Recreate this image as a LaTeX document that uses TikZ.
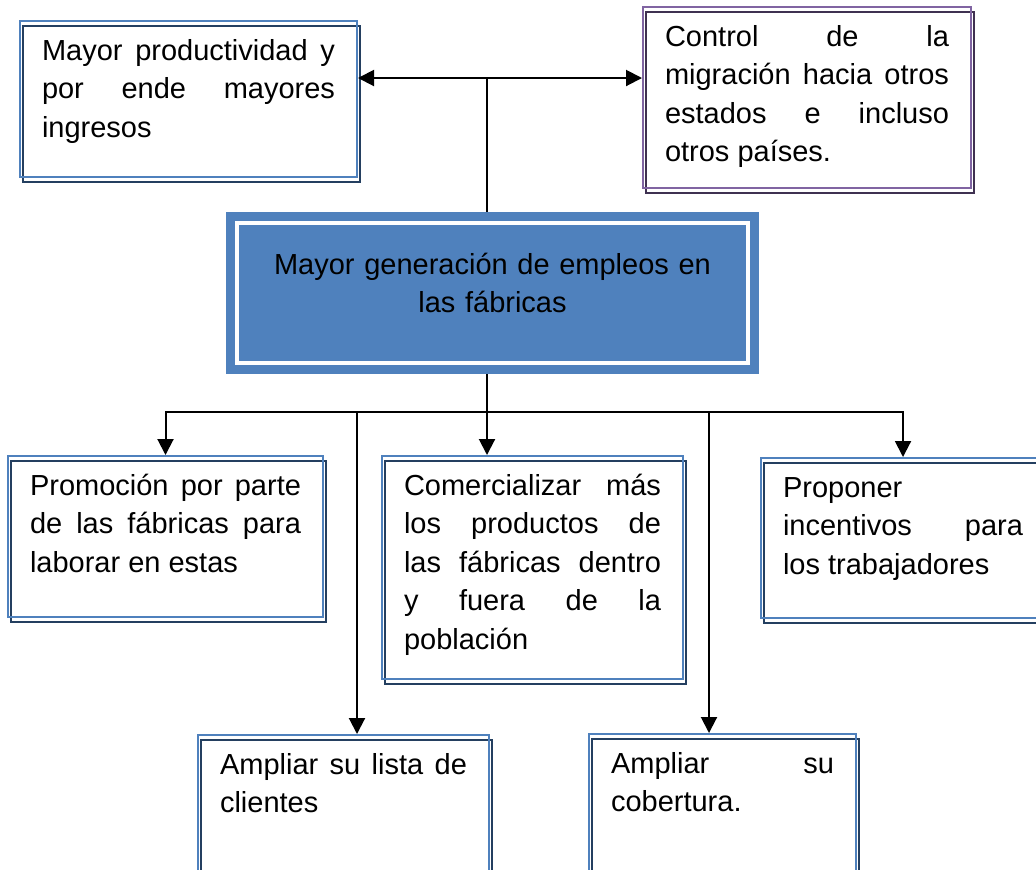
\documentclass[tikz,border=0pt]{standalone}
\usepackage{fontspec}
\setmainfont{Liberation Sans}
\usetikzlibrary{arrows.meta,shadows}
\definecolor{lblue}{HTML}{4F81BD}
\definecolor{dblue}{HTML}{243F60}
\definecolor{lpurple}{HTML}{8064A2}
\definecolor{dpurple}{HTML}{3F3151}
\tolerance=10000
\hbadness=10000

\begin{document}
\begin{tikzpicture}[x=0.5pt,y=-0.5pt,>={Triangle[width=8pt,length=8pt]},line width=1pt,
every node/.style={font=\fontsize{14.5pt}{19.25pt}\selectfont},
boxframe/.style 2 args={draw=#1, general shadow={draw=#2, line width=1pt, shadow xshift=1.25pt, shadow yshift=-2.5pt}},
txtbox/.style={anchor=north west, align=justify, inner xsep=11pt, inner ysep=0pt, text height=19.5pt},
bluebox/.style={txtbox, boxframe={lblue}{dblue}},
purplebox/.style={txtbox, boxframe={lpurple}{dpurple}},
hubbox/.style={fill=lblue, draw=white, line width=2pt, preaction={draw=lblue, line width=11pt},
  minimum width=255.5pt, minimum height=70pt, outer sep=5.5pt, align=center, text width=240pt,
  text height=10pt, text depth=29pt},
]
\useasboundingbox (0,0) rectangle (1036,869);

\node[bluebox, text width=146.5pt, text depth=58.5pt] (prod) at (19,20)
  {Mayor productividad y\linebreak por ende mayores\linebreak ingresos};
\node[purplebox, text width=142pt, text depth=71pt] (migra) at (642,6)
  {Control de la\linebreak migración hacia otros\linebreak estados e incluso\linebreak otros países.};
\node[hubbox] (empleo) at (492.5,293) {Mayor generación de empleos en\\las fábricas};

\node[bluebox, text width=135.5pt, text depth=61pt] (promo) at (7,455)
  {Promoción por parte\linebreak de las fábricas para\linebreak laborar en estas};
\node[bluebox, text width=128.5pt, text depth=92pt] (comer) at (381,455)
  {Comercializar más\linebreak los productos de\linebreak las fábricas dentro\linebreak y fuera de la\linebreak población};
\node[bluebox, text width=120pt, text depth=60.5pt] (incent) at (760,457)
  {Proponer\\ incentivos para\linebreak los trabajadores};

\node[bluebox, text width=123.5pt, text depth=55.5pt] (clientes) at (197,734)
  {Ampliar su lista de\linebreak clientes};
\node[bluebox, text width=111.5pt, text depth=55.5pt] (cober) at (588,733)
  {Ampliar su\linebreak cobertura.};

% Top branch
\coordinate (top) at (487,78);
\draw (top) -- (top |- empleo.north);
\draw[<->] (prod.east |- top) -- (migra.west |- top);

% Bottom branch
\coordinate (hub) at (487,412);
\coordinate (s1) at (357,412);
\coordinate (s2) at (709,412);
\draw (empleo.south -| hub) -- (hub);
\draw[->] (hub) -| (promo.north);
\draw[->] (hub) -| (incent.north);
\draw[->] (hub) -- (hub |- comer.north);
\draw[->] (s1) -- (s1 |- clientes.north);
\draw[->] (s2) -- (s2 |- cober.north);

\end{tikzpicture}
\end{document}
